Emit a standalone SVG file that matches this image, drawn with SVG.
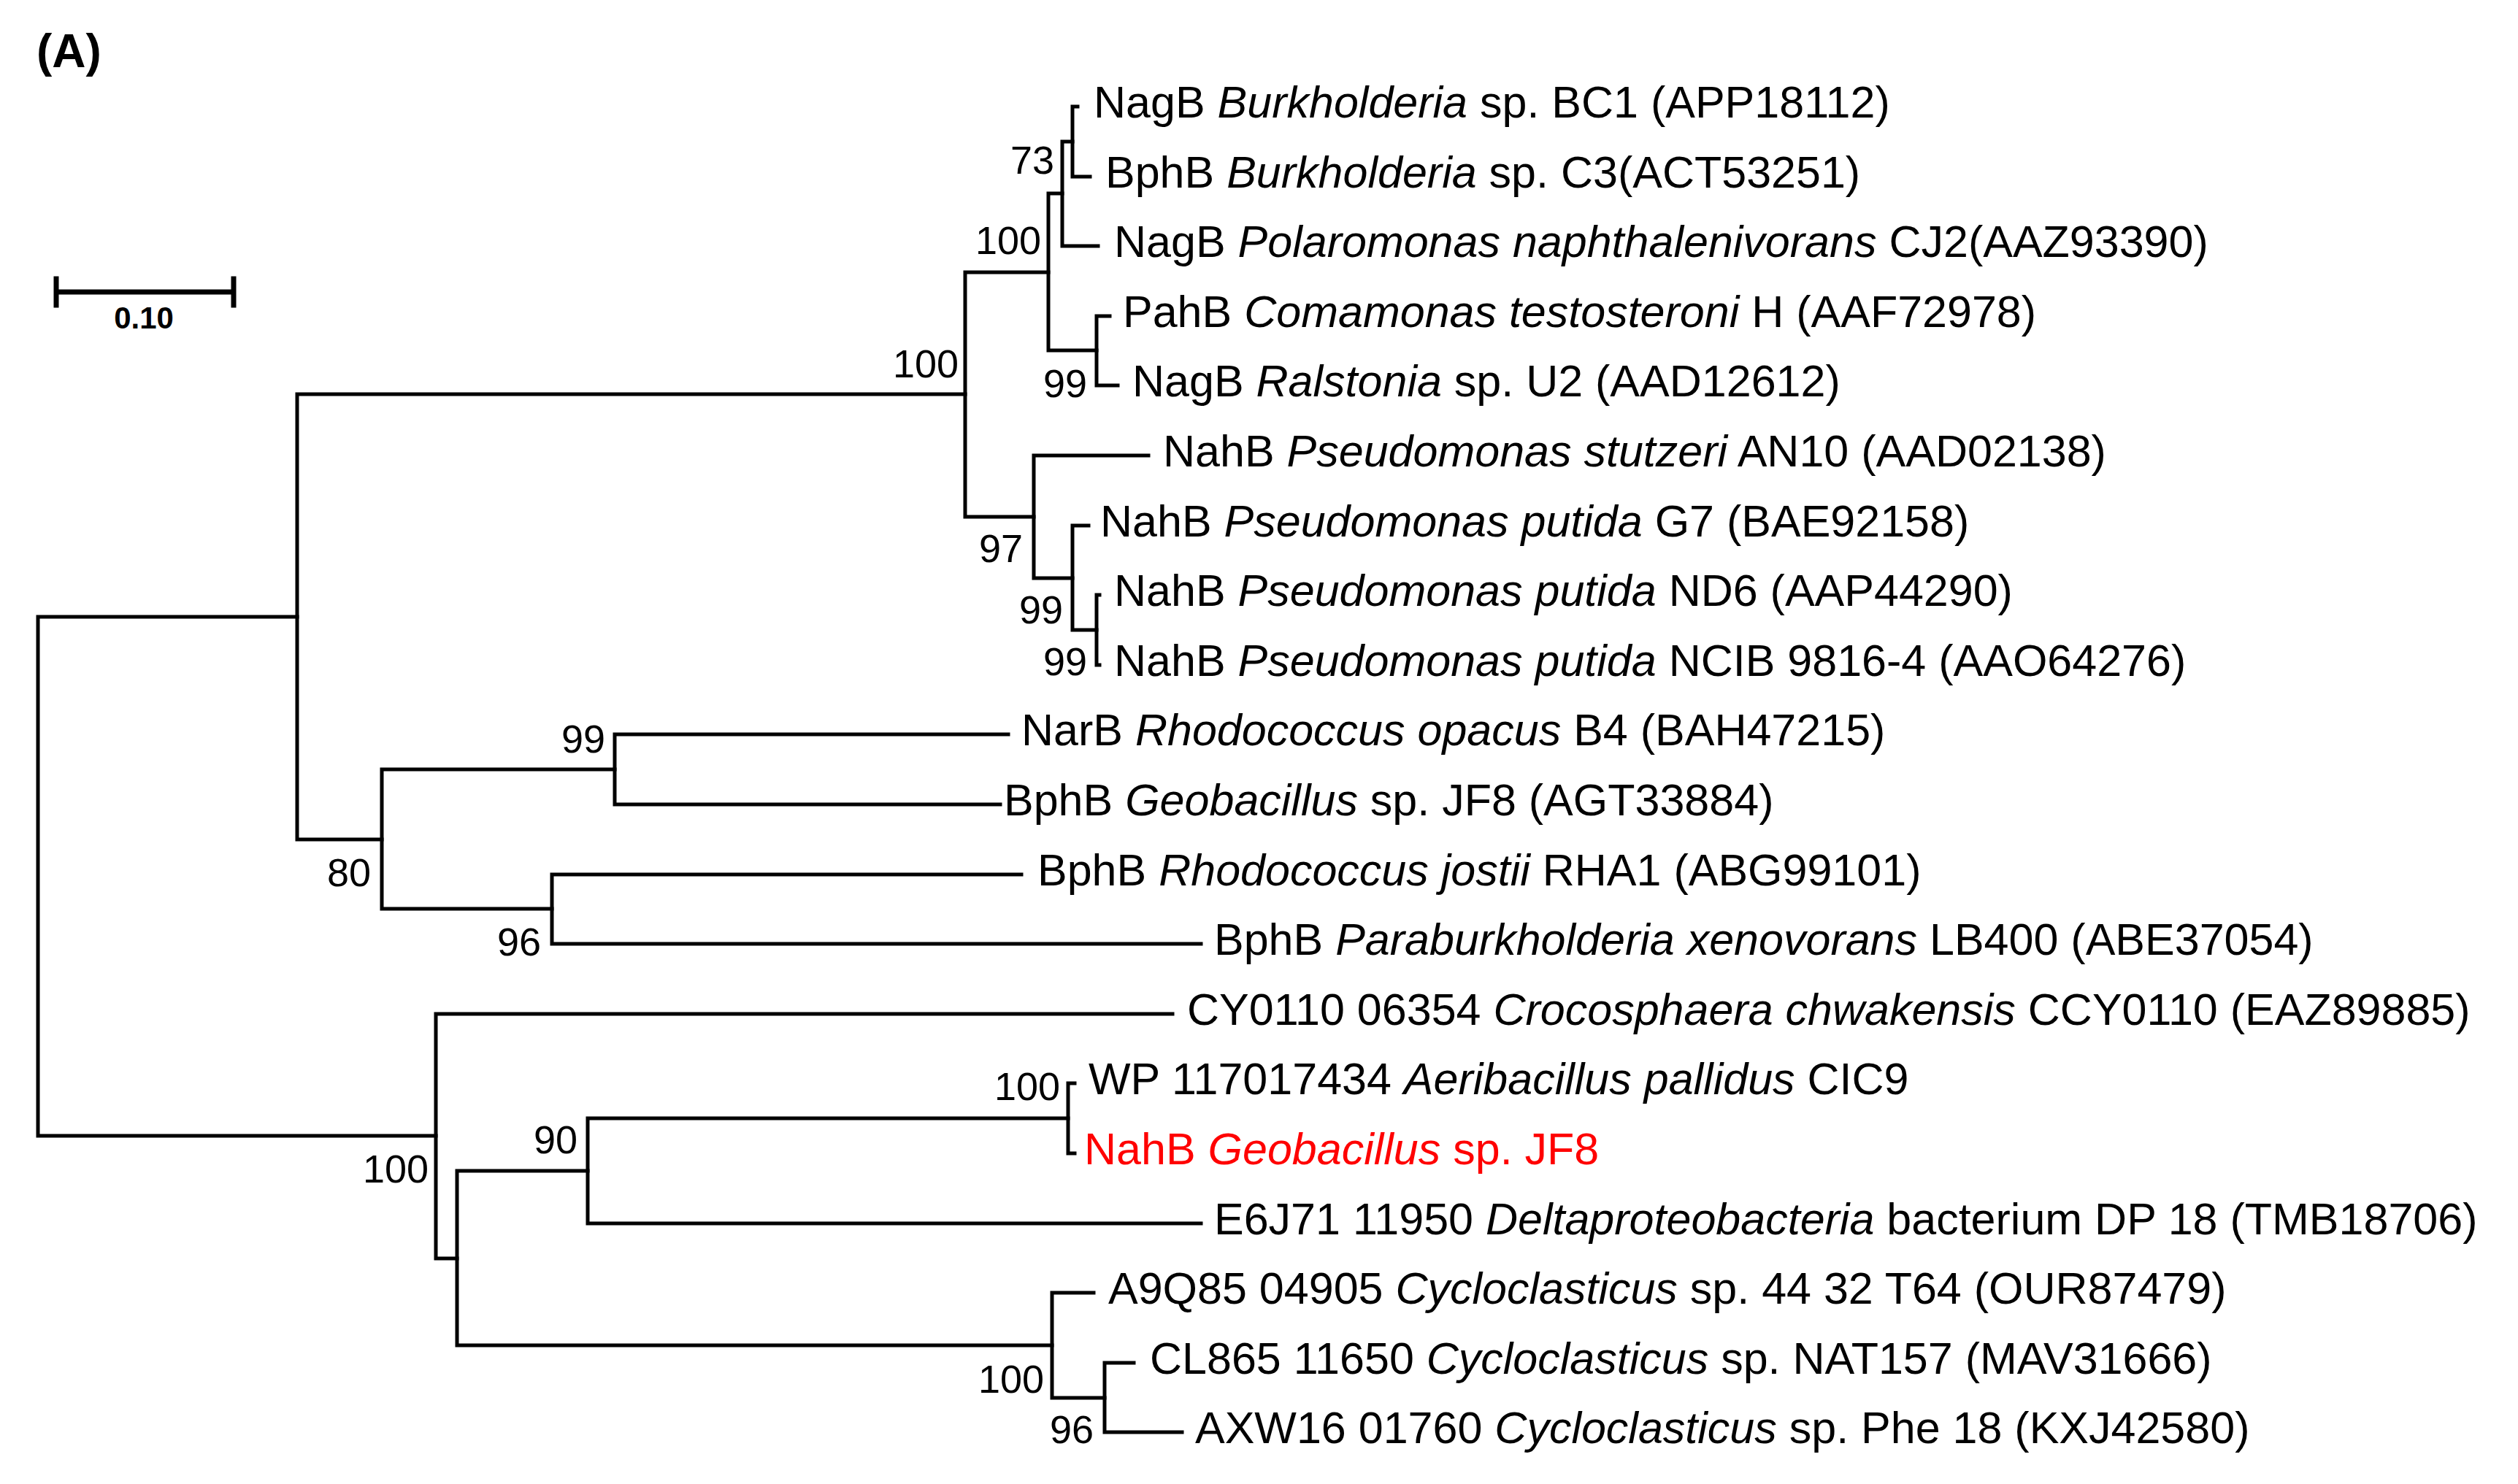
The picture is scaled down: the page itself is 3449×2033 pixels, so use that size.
<svg xmlns="http://www.w3.org/2000/svg" width="3449" height="2033" viewBox="0 0 3449 2033">
<style>
.l{stroke:#000;stroke-width:5;fill:none;stroke-linecap:square}
.t{font-family:"Liberation Sans",Arial,sans-serif;font-size:61px;fill:#000}
.b{font-family:"Liberation Sans",Arial,sans-serif;font-size:54px;fill:#000;text-anchor:end}
.i{font-style:italic}
</style>
<rect width="3449" height="2033" fill="#fff"/>
<text x="50" y="92" style="font-family:'Liberation Sans',Arial,sans-serif;font-size:64px;font-weight:bold">(A)</text>
<g id="scalebar">
<path class="l" style="stroke-width:7" d="M77,400H320M77,382V418M320,382V418"/>
<text x="197" y="450" text-anchor="middle" style="font-family:'Liberation Sans',Arial,sans-serif;font-size:42px;font-weight:bold">0.10</text>
</g>
<g id="connectors">
<path class="l" d="M52,845V1556M52,845H407M52,1556H597"/>
<path class="l" d="M407,540V1150M407,540H1322M407,1150H523"/>
<path class="l" d="M1322,373V708M1322,373H1436M1322,708H1416"/>
<path class="l" d="M1436,265V480M1436,265H1455M1436,480H1502"/>
<path class="l" d="M1455,194V337M1455,194H1469M1455,337H1504"/>
<path class="l" d="M1469,146V242M1469,146H1476M1469,242H1493"/>
<path class="l" d="M1502,433V528M1502,433H1520M1502,528H1531"/>
<path class="l" d="M1416,624V792M1416,624H1573M1416,792H1469"/>
<path class="l" d="M1469,720V863M1469,720H1491M1469,863H1502"/>
<path class="l" d="M1502,815V911M1502,815H1506M1502,911H1506"/>
<path class="l" d="M523,1054V1245M523,1054H842M523,1245H756"/>
<path class="l" d="M842,1006V1102M842,1006H1381M842,1102H1370"/>
<path class="l" d="M756,1198V1293M756,1198H1399M756,1293H1645"/>
<path class="l" d="M597,1389V1724M597,1389H1606M597,1724H626"/>
<path class="l" d="M626,1604V1843M626,1604H805M626,1843H1441"/>
<path class="l" d="M805,1532V1676M805,1532H1463M805,1676H1645"/>
<path class="l" d="M1463,1484V1580M1463,1484H1472M1463,1580H1472"/>
<path class="l" d="M1441,1771V1915M1441,1771H1498M1441,1915H1513"/>
<path class="l" d="M1513,1867V1962M1513,1867H1553M1513,1962H1619"/>
</g>
<g id="bootstrap">
<text class="b" x="1444" y="238">73</text>
<text class="b" x="1426" y="348">100</text>
<text class="b" x="1313" y="517">100</text>
<text class="b" x="1489" y="544">99</text>
<text class="b" x="1401" y="770">97</text>
<text class="b" x="1456" y="854">99</text>
<text class="b" x="1489" y="925">99</text>
<text class="b" x="829" y="1031">99</text>
<text class="b" x="508" y="1214">80</text>
<text class="b" x="741" y="1309">96</text>
<text class="b" x="587" y="1620">100</text>
<text class="b" x="791" y="1580">90</text>
<text class="b" x="1452" y="1507">100</text>
<text class="b" x="1430" y="1908">100</text>
<text class="b" x="1498" y="1977">96</text>
</g>
<g id="leaves">
<text id="n0" class="t" x="1498" y="161">NagB <tspan class="i">Burkholderia</tspan> sp. BC1 (APP18112)</text>
<text id="n1" class="t" x="1514" y="257">BphB <tspan class="i">Burkholderia</tspan> sp. C3(ACT53251)</text>
<text id="n2" class="t" x="1526" y="352">NagB <tspan class="i">Polaromonas naphthalenivorans</tspan> CJ2(AAZ93390)</text>
<text id="n3" class="t" x="1538" y="448">PahB <tspan class="i">Comamonas testosteroni</tspan> H (AAF72978)</text>
<text id="n4" class="t" x="1551" y="543">NagB <tspan class="i">Ralstonia</tspan> sp. U2 (AAD12612)</text>
<text id="n5" class="t" x="1593" y="639">NahB <tspan class="i">Pseudomonas stutzeri</tspan> AN10 (AAD02138)</text>
<text id="n6" class="t" x="1507" y="735">NahB <tspan class="i">Pseudomonas putida</tspan> G7 (BAE92158)</text>
<text id="n7" class="t" x="1526" y="830">NahB <tspan class="i">Pseudomonas putida</tspan> ND6 (AAP44290)</text>
<text id="n8" class="t" x="1526" y="926">NahB <tspan class="i">Pseudomonas putida</tspan> NCIB 9816-4  (AAO64276)</text>
<text id="n9" class="t" x="1399" y="1021">NarB <tspan class="i">Rhodococcus opacus</tspan> B4 (BAH47215)</text>
<text id="n10" class="t" x="1375" y="1117">BphB <tspan class="i">Geobacillus</tspan> sp. JF8 (AGT33884)</text>
<text id="n11" class="t" x="1421" y="1213">BphB <tspan class="i">Rhodococcus jostii</tspan> RHA1 (ABG99101)</text>
<text id="n12" class="t" x="1663" y="1308">BphB <tspan class="i">Paraburkholderia xenovorans</tspan> LB400 (ABE37054)</text>
<text id="n13" class="t" x="1626" y="1404">CY0110 06354 <tspan class="i">Crocosphaera chwakensis</tspan> CCY0110 (EAZ89885)</text>
<text id="n14" class="t" x="1491" y="1499">WP 117017434 <tspan class="i">Aeribacillus pallidus</tspan> CIC9</text>
<text id="n15" class="t" x="1485" y="1595" style="fill:#ff0000">NahB <tspan class="i">Geobacillus</tspan> sp. JF8</text>
<text id="n16" class="t" x="1663" y="1691">E6J71 11950 <tspan class="i">Deltaproteobacteria</tspan> bacterium DP 18 (TMB18706)</text>
<text id="n17" class="t" x="1518" y="1786">A9Q85 04905 <tspan class="i">Cycloclasticus</tspan> sp. 44 32 T64 (OUR87479)</text>
<text id="n18" class="t" x="1575" y="1882">CL865 11650 <tspan class="i">Cycloclasticus</tspan> sp. NAT157 (MAV31666)</text>
<text id="n19" class="t" x="1637" y="1977">AXW16 01760 <tspan class="i">Cycloclasticus</tspan> sp. Phe 18 (KXJ42580)</text>
</g>
</svg>
